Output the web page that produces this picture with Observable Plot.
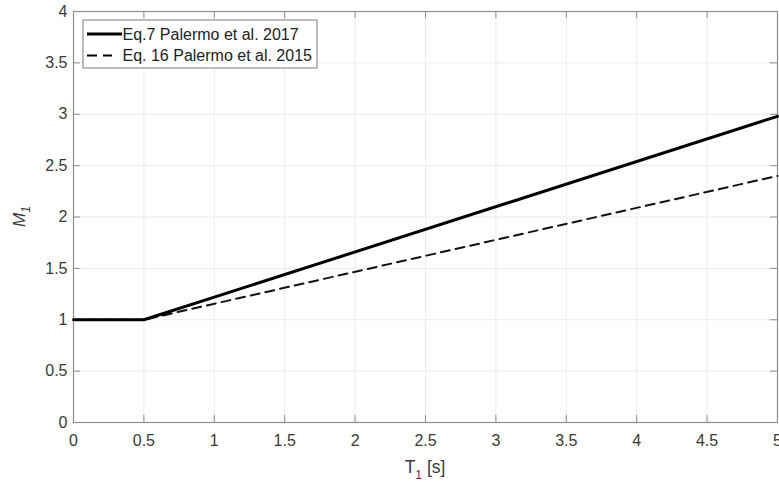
<!DOCTYPE html>
<html>
<head>
<meta charset="utf-8">
<script src="https://cdn.jsdelivr.net/npm/d3@7"></script>
<script src="https://cdn.jsdelivr.net/npm/@observablehq/plot@0.6"></script>
<style>
  html, body { margin: 0; padding: 0; background: #fff; }
  #chart { position: relative; width: 779px; height: 482px; }
  svg { font-family: "Liberation Sans", Arial, sans-serif; }
</style>
</head>
<body>
<div id="chart"></div>
<script>
// Data
const t = [0, 0.5, 5];
const m1Eq7_2017 = [1, 1, 2.98];
const m1Eq16_2015 = [1, 1, 2.4];
const seriesNames = ["Eq.7 Palermo et al. 2017", "Eq. 16 Palermo et al. 2015"];
const xTicks = [0, 0.5, 1, 1.5, 2, 2.5, 3, 3.5, 4, 4.5, 5];
const yTicks = [0, 0.5, 1, 1.5, 2, 2.5, 3, 3.5, 4];
const tickFmt = d => String(d);

const solid = t.map((x, i) => ({x, y: m1Eq7_2017[i]}));
const dashed = t.map((x, i) => ({x, y: m1Eq16_2015[i]}));

const frameColor = "#8f8f8f";
const gridColor = "#ebebeb";
const textColor = "#3a3a3a";

const plot = Plot.plot({
  width: 779,
  height: 482,
  marginLeft: 73,
  marginRight: 2,
  marginTop: 11,
  marginBottom: 60,
  style: {fontFamily: "'Liberation Sans', Arial, sans-serif", background: "#fff"},
  x: {domain: [0, 5], label: null},
  y: {domain: [0, 4], label: null},
  marks: [
    Plot.ruleX(xTicks, {stroke: gridColor, strokeWidth: 1}),
    Plot.ruleY(yTicks, {stroke: gridColor, strokeWidth: 1}),
    // inward ticks
    Plot.ruleX(xTicks, {y1: 0, y2: 0.068, stroke: frameColor}),
    Plot.ruleX(xTicks, {y1: 4, y2: 3.932, stroke: frameColor}),
    Plot.ruleY(yTicks, {x1: 0, x2: 0.05, stroke: frameColor}),
    Plot.ruleY(yTicks, {x1: 5, x2: 4.95, stroke: frameColor}),
    Plot.frame({stroke: frameColor, strokeWidth: 1.2}),
    Plot.axisX({ticks: xTicks, tickFormat: tickFmt, tickSize: 0, tickPadding: 12, fontSize: 16, fill: textColor, label: null}),
    Plot.axisY({ticks: yTicks, tickFormat: tickFmt, tickSize: 0, tickPadding: 6, fontSize: 16, fill: textColor, label: null}),
    Plot.line(dashed, {x: "x", y: "y", stroke: "#111", strokeWidth: 2, strokeDasharray: "9,6"}),
    Plot.line(solid, {x: "x", y: "y", stroke: "#000", strokeWidth: 3})
  ]
});

document.getElementById("chart").appendChild(plot);

const svg = d3.select(plot);
const xs = plot.scale("x"), ys = plot.scale("y");
const pLeft = xs.apply(0), pRight = xs.apply(5), pBottom = ys.apply(0), pTop = ys.apply(4);

// X axis label
const xl = svg.append("text")
  .attr("x", (pLeft + pRight) / 2)
  .attr("y", pBottom + 51)
  .attr("text-anchor", "middle")
  .attr("font-size", 17.5)
  .attr("fill", textColor);
xl.append("tspan").text("T");
xl.append("tspan").attr("font-size", 12).attr("dy", 6).text("1");
xl.append("tspan").attr("dy", -6).text(" [s]");

// Y axis label
const yl = svg.append("text")
  .attr("transform", `translate(25,${(pTop + pBottom) / 2}) rotate(-90)`)
  .attr("text-anchor", "middle")
  .attr("font-size", 17)
  .attr("fill", textColor);
yl.append("tspan").attr("font-style", "italic").text("M");
yl.append("tspan").attr("font-style", "italic").attr("font-size", 12).attr("dy", 5).text("1");

// Legend
const lg = svg.append("g").attr("transform", `translate(${pLeft + 10},${pTop + 9})`);
lg.append("rect").attr("width", 234).attr("height", 48)
  .attr("fill", "#fff").attr("stroke", "#7a7a7a").attr("stroke-width", 1);
const rows = [
  {name: seriesNames[0], dash: null, w: 3, x2: 39},
  {name: seriesNames[1], dash: "10,6", w: 2, x2: 29}
];
rows.forEach((r, i) => {
  const cy = 14 + i * 21.5;
  lg.append("line").attr("x1", 4).attr("x2", r.x2).attr("y1", cy).attr("y2", cy)
    .attr("stroke", "#000").attr("stroke-width", r.w)
    .attr("stroke-dasharray", r.dash);
  lg.append("text").attr("x", 39.5).attr("y", cy + 5.7)
    .attr("text-anchor", "start")
    .attr("font-size", 16).attr("fill", "#222").text(r.name);
});
</script>
</body>
</html>
